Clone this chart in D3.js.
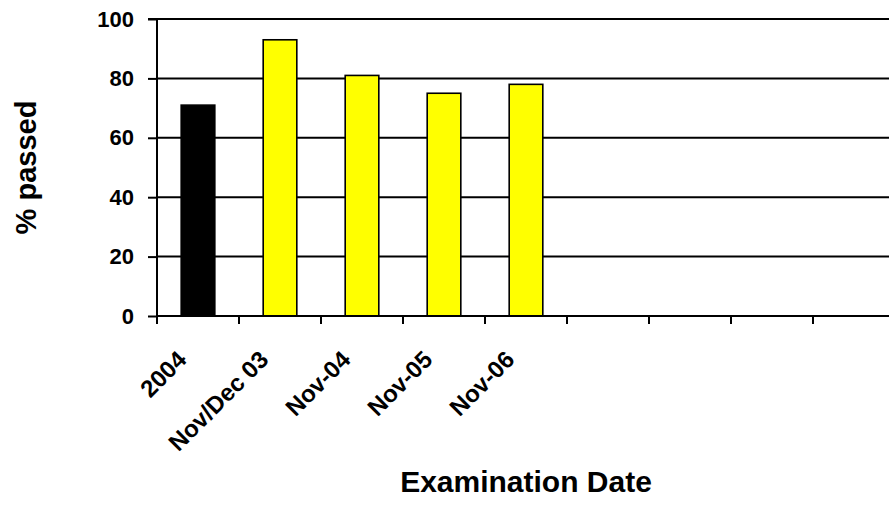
<!DOCTYPE html>
<html>
<head>
<meta charset="utf-8">
<script src="https://cdn.jsdelivr.net/npm/d3@7"></script>
<style>
  html, body { margin: 0; padding: 0; background: #fff; }
  svg { display: block; font-family: "Liberation Sans", Arial, Helvetica, sans-serif; font-weight: bold; }
</style>
</head>
<body>
<svg id="chart" width="889" height="506"></svg>
<script>
// ---- data ----
const categories = ["2004", "Nov/Dec 03", "Nov-04", "Nov-05", "Nov-06", "", "", "", ""];
const values = [71, 93, 81, 75, 78, null, null, null, null];
const barColors = ["#000000", "#FFFF00", "#FFFF00", "#FFFF00", "#FFFF00"];
const yTicks = [0, 20, 40, 60, 80, 100];
const xTitle = "Examination Date";
const yTitle = "% passed";

// ---- layout ----
const svg = d3.select("#chart");
const mLeft = 157, mRight = 895, mTop = 19, mBottom = 316;

const x = d3.scaleBand()
  .domain(d3.range(categories.length))
  .range([mLeft, mRight])
  .padding(0);

const y = d3.scaleLinear().domain([0, 100]).range([mBottom, mTop]);

// gridlines
svg.append("g")
  .selectAll("line")
  .data(yTicks.filter(d => d > 0))
  .join("line")
  .attr("x1", mLeft).attr("x2", mRight)
  .attr("y1", d => y(d)).attr("y2", d => y(d))
  .attr("stroke", "#000").attr("stroke-width", 2);

// bars
const barW = x.bandwidth() * 0.41;
svg.append("g")
  .selectAll("rect")
  .data(values.map((v, i) => ({ v, i })).filter(d => d.v != null))
  .join("rect")
  .attr("x", d => x(d.i) + x.bandwidth() / 2 - barW / 2)
  .attr("width", barW)
  .attr("y", d => y(d.v))
  .attr("height", d => y(0) - y(d.v))
  .attr("fill", d => barColors[d.i])
  .attr("stroke", "#000")
  .attr("stroke-width", 1.6);

// y axis
const yAxis = d3.axisLeft(y).tickValues(yTicks).tickSize(9).tickPadding(14);
const gy = svg.append("g").attr("transform", `translate(${mLeft},0)`).call(yAxis);
gy.select(".domain").attr("stroke", "#000").attr("stroke-width", 2).attr("d", `M-9,${mTop}H0V${mBottom}`);
gy.selectAll(".tick line").attr("stroke", "#000").attr("stroke-width", 2);
gy.selectAll(".tick text")
  .attr("font-size", 22).attr("font-weight", "bold")
  .attr("font-family", "'Liberation Sans', Arial, sans-serif")
  .attr("fill", "#000");

// x axis line and ticks at category boundaries
svg.append("line")
  .attr("x1", mLeft).attr("x2", mRight)
  .attr("y1", mBottom).attr("y2", mBottom)
  .attr("stroke", "#000").attr("stroke-width", 2);
svg.append("g")
  .selectAll("line")
  .data(d3.range(categories.length))
  .join("line")
  .attr("x1", d => x(d)).attr("x2", d => x(d))
  .attr("y1", mBottom).attr("y2", mBottom + 8)
  .attr("stroke", "#000").attr("stroke-width", 2);

// x tick labels
svg.append("g")
  .selectAll("text")
  .data(categories.map((c, i) => ({ c, i })).filter(d => d.c !== ""))
  .join("text")
  .attr("transform", d => `translate(${x(d.i) + x.bandwidth() / 2 - 10},${mBottom + 45}) rotate(-45)`)
  .attr("text-anchor", "end")
  .attr("font-size", 24)
  .attr("fill", "#000")
  .text(d => d.c);

// titles
svg.append("text")
  .attr("x", (mLeft + mRight) / 2).attr("y", 492)
  .attr("text-anchor", "middle")
  .attr("font-size", 30)
  .attr("fill", "#000")
  .text(xTitle);

svg.append("text")
  .attr("transform", `translate(36,${(mTop + mBottom) / 2}) rotate(-90)`)
  .attr("text-anchor", "middle")
  .attr("font-size", 29)
  .attr("fill", "#000")
  .text(yTitle);
</script>
</body>
</html>
